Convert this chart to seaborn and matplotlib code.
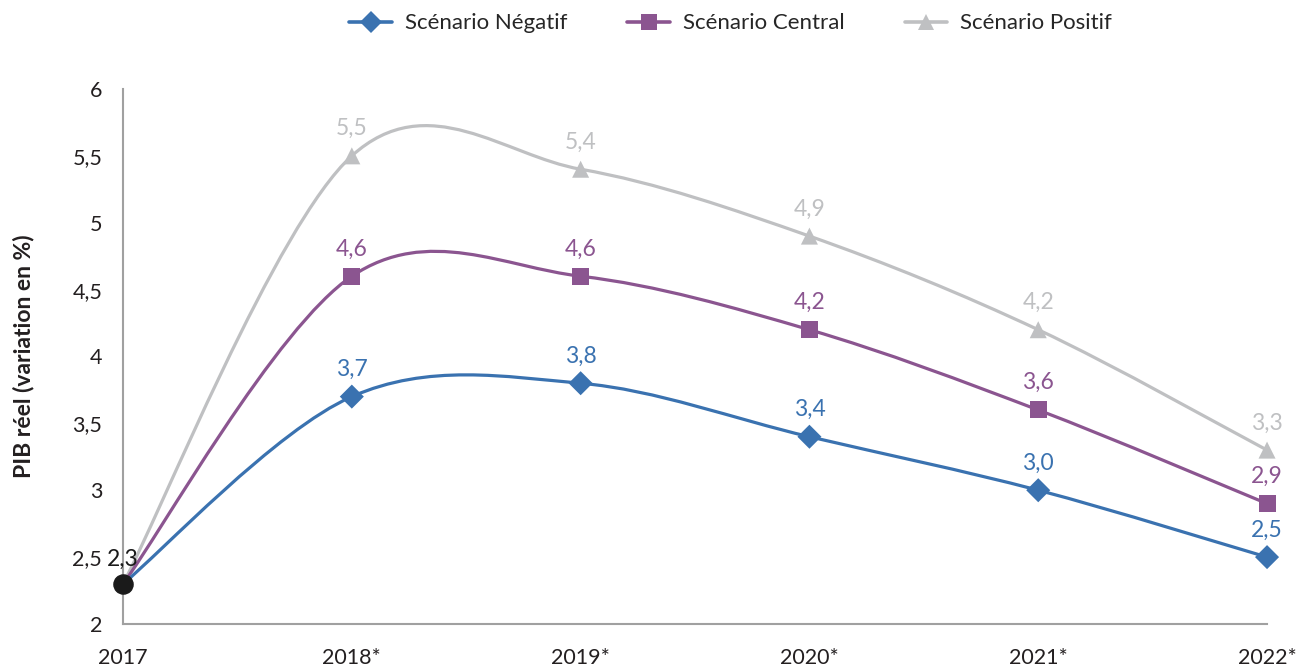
import matplotlib
matplotlib.use("Agg")
import matplotlib.pyplot as plt
from matplotlib.path import Path
from matplotlib.patches import PathPatch
from matplotlib.lines import Line2D
import seaborn as sns
import pandas as pd

years = ["2017", "2018*", "2019*", "2020*", "2021*", "2022*"]
negatif = [2.3, 3.7, 3.8, 3.4, 3.0, 2.5]
central = [2.3, 4.6, 4.6, 4.2, 3.6, 2.9]
positif = [2.3, 5.5, 5.4, 4.9, 4.2, 3.3]
scenarios = ["Scénario Négatif", "Scénario Central", "Scénario Positif"]
colors = ["#3a72b0", "#8b5590", "#bfc0c2"]
markers = ["D", "s", "^"]


def smooth_path(xs, ys):
    # Excel-like smoothed line: cubic Bezier through the points (Catmull-Rom)
    pts = list(zip(xs, ys))
    verts = [pts[0]]
    codes = [Path.MOVETO]
    n = len(pts)
    for i in range(n - 1):
        p0 = pts[i - 1] if i > 0 else pts[i]
        p1 = pts[i]
        p2 = pts[i + 1]
        p3 = pts[i + 2] if i + 2 < n else pts[i + 1]
        c1 = (p1[0] + (p2[0] - p0[0]) / 6, p1[1] + (p2[1] - p0[1]) / 6)
        c2 = (p2[0] - (p3[0] - p1[0]) / 6, p2[1] - (p3[1] - p1[1]) / 6)
        verts += [c1, c2, p2]
        codes += [Path.CURVE4] * 3
    return Path(verts, codes)


sns.set_style("white")
plt.rcParams["font.family"] = ["Lato", "DejaVu Sans"]

rows = []
for name, vals in zip(scenarios, [negatif, central, positif]):
    for i, v in enumerate(vals):
        rows.append({"pos": i, "val": v, "scenario": name})
df = pd.DataFrame(rows)

fig = plt.figure(figsize=(12.99, 6.68), dpi=100)
ax = fig.add_axes([0.0947, 0.0659, 0.8807, 0.8009])

for name, col in zip(scenarios[::-1], colors[::-1]):
    sub = df[df.scenario == name]
    ax.add_patch(PathPatch(smooth_path(sub.pos.tolist(), sub.val.tolist()),
                           facecolor="none", edgecolor=col, lw=2.3, zorder=2))

pts = df[df.pos > 0]
sns.scatterplot(data=pts, x="pos", y="val", hue="scenario", style="scenario",
                hue_order=scenarios, style_order=scenarios,
                palette=dict(zip(scenarios, colors)),
                markers=dict(zip(scenarios, markers)),
                s=150, linewidth=0, legend=False, ax=ax, zorder=3,
                clip_on=False)

# labels above points
for name, col, vals in zip(scenarios, colors, [negatif, central, positif]):
    for i, v in enumerate(vals):
        if i == 0:
            continue
        ax.annotate(f"{v:.1f}".replace(".", ","), (i, v), xytext=(0, 12),
                    textcoords="offset points", ha="center", va="bottom",
                    color=col, fontsize=16.5, zorder=4)

ax.scatter([0], [negatif[0]], s=190, color="#1a1a1a", zorder=5, clip_on=False)
ax.annotate("2,3", (0, negatif[0]), xytext=(0, 10), textcoords="offset points",
            ha="center", va="bottom", color="#1a1a1a", fontsize=16.5, zorder=5)

ax.set_xlim(0, 5)
ax.set_ylim(2, 6)
ax.set_xticks(range(len(years)))
ax.set_xticklabels(years)
yt = [2, 2.5, 3, 3.5, 4, 4.5, 5, 5.5, 6]
ax.set_yticks(yt)
ax.set_yticklabels([f"{t:g}".replace(".", ",") for t in yt])
ax.tick_params(axis="both", length=0, labelsize=15.5, colors="#231f20")
ax.tick_params(axis="x", pad=17)
ax.tick_params(axis="y", pad=15)
ax.set_xlabel("")
ax.set_ylabel("PIB réel (variation en %)", fontsize=16.5, fontweight="bold",
              color="#231f20", labelpad=27)
for s in ["top", "right"]:
    ax.spines[s].set_visible(False)
for s in ["left", "bottom"]:
    ax.spines[s].set_color("#a0a0a0")
    ax.spines[s].set_linewidth(1.5)

handles = [Line2D([0], [0], color=c, lw=2.6, marker=m, markersize=11,
                  markeredgewidth=0) for c, m in zip(colors, markers)]
fig.legend(handles, scenarios, loc="center", bbox_to_anchor=(0.5625, 0.965),
           ncol=3, frameon=False, fontsize=16, handlelength=1.9,
           columnspacing=2.7, handletextpad=0.6)

fig.savefig("out.png", dpi=100)
